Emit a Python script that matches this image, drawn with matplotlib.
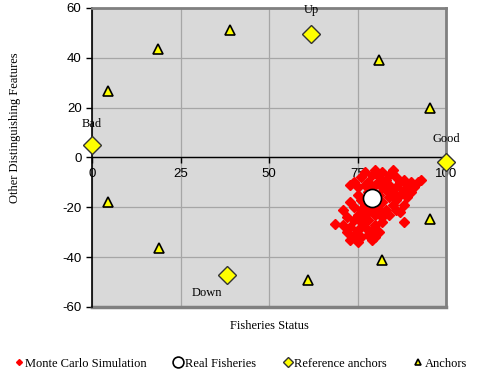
import matplotlib
matplotlib.use('Agg')
import matplotlib.pyplot as plt

# Monte Carlo simulation points
mc_x = [76, 77, 78, 79, 80, 81, 82, 83, 84, 85, 86, 87, 88, 89, 90, 91, 92, 93,
        74, 73, 75, 77, 80, 82, 84, 86, 88, 90, 79, 81, 83, 85, 87, 89, 86,
        75, 76, 78, 80, 81, 82, 84, 85, 86, 83, 81, 79, 77, 76, 74, 73, 71, 75, 78, 80, 82, 88, 87, 84,
        72, 74, 76, 78, 80, 68.5, 71, 73, 75, 77, 79, 81, 72, 74, 76, 78, 80, 73, 75, 79, 88, 82, 77]
mc_y = [-8, -6, -10, -7, -5, -8, -6, -9, -7, -5, -8, -10, -9, -11, -10, -12, -10, -9,
        -10, -11, -12, -11, -11, -12, -11, -12, -13, -14, -12, -10, -13, -14, -15, -16, -17,
        -15, -17, -14, -19, -15, -18, -16, -19, -21, -21, -21, -20, -19, -21, -20, -18, -21, -23, -22, -23, -24, -19, -22, -23,
        -24, -25, -26, -25, -27, -26.5, -27, -28, -29, -28, -29, -30, -30, -31, -32, -31, -32, -33, -34, -33, -26, -26, -24]

real_x = [79]
real_y = [-16.3]

ref_x = [0, 100, 62, 38]
ref_y = [5, -2, 49.5, -47]
ref_names = ['Bad', 'Good', 'Up', 'Down']

anchor_x = [4.5, 18.5, 39, 81, 95.5, 4.5, 19, 61, 82, 95.5]
anchor_y = [26.5, 43.5, 51, 39, 20, -18, -36.5, -49, -41, -24.5]

serif = 'Liberation Serif'
sans = 'Liberation Sans'

fig = plt.figure(figsize=(4.8, 3.73), dpi=100)
ax = fig.add_axes([0.1917, 0.177, 0.7375, 0.8016])
ax.set_facecolor('#d9d9d9')

ax.set_xlim(0, 100)
ax.set_ylim(-60, 60)
ax.set_xticks([0, 25, 50, 75, 100])
ax.set_yticks([-60, -40, -20, 0, 20, 40, 60])
ax.set_yticklabels(['-60', '-40', '-20', '0', '20', '40', '60'])
ax.grid(True, color='#a6a6a6', linewidth=0.9)
ax.set_axisbelow(True)

for s in ['top', 'right']:
    ax.spines[s].set_color('#808080')
    ax.spines[s].set_linewidth(2)
ax.spines['left'].set_color('black')
ax.spines['left'].set_linewidth(1.2)
ax.spines['bottom'].set_position(('data', 0))
ax.spines['bottom'].set_color('black')
ax.spines['bottom'].set_linewidth(1)
ax.axhline(-60, color='#808080', linewidth=2.5, clip_on=False, zorder=1)

ax.tick_params(axis='both', labelsize=9.5, length=4, width=1, direction='out')
for lab in ax.get_xticklabels() + ax.get_yticklabels():
    lab.set_fontfamily(sans)

ax.plot(mc_x, mc_y, linestyle='none', marker='D', markersize=5, color='red',
        markeredgecolor='red', label='Monte Carlo Simulation', zorder=3)
ax.plot(real_x, real_y, linestyle='none', marker='o', markersize=13, color='white',
        markeredgecolor='black', markeredgewidth=1.2, label='Real Fisheries', zorder=4)
ax.plot(ref_x, ref_y, linestyle='none', marker='D', markersize=9, color='#ffff00',
        markeredgecolor='#333333', markeredgewidth=1, label='Reference anchors',
        clip_on=False, zorder=5)
ax.plot(anchor_x, anchor_y, linestyle='none', marker='^', markersize=7, color='#ffff00',
        markeredgecolor='black', markeredgewidth=1.2, label='Anchors', zorder=5)

# anchor names
ax.text(0, 13.5, 'Bad', ha='center', va='center', fontsize=9, fontfamily=serif)
ax.text(100, 7.5, 'Good', ha='center', va='center', fontsize=9, fontfamily=serif)
ax.text(62, 59, 'Up', ha='center', va='center', fontsize=9, fontfamily=serif)
ax.text(32.5, -54.5, 'Down', ha='center', va='center', fontsize=9, fontfamily=serif)

ax.set_xlabel('Fisheries Status', fontsize=9, fontfamily=serif, labelpad=6)
ax.set_ylabel('Other Distinguishing Features', fontsize=9, fontfamily=serif)
ax.xaxis.set_label_coords(0.5, -0.045)
ax.yaxis.set_label_coords(-0.2, 0.6)

leg = fig.legend(loc='center', bbox_to_anchor=(0.5, 0.025), ncol=4, frameon=False,
                 prop={'family': serif, 'size': 9}, handletextpad=0.05,
                 columnspacing=2.0, handlelength=1.0, markerscale=0.6)

fig.savefig('out.png', dpi=100)
